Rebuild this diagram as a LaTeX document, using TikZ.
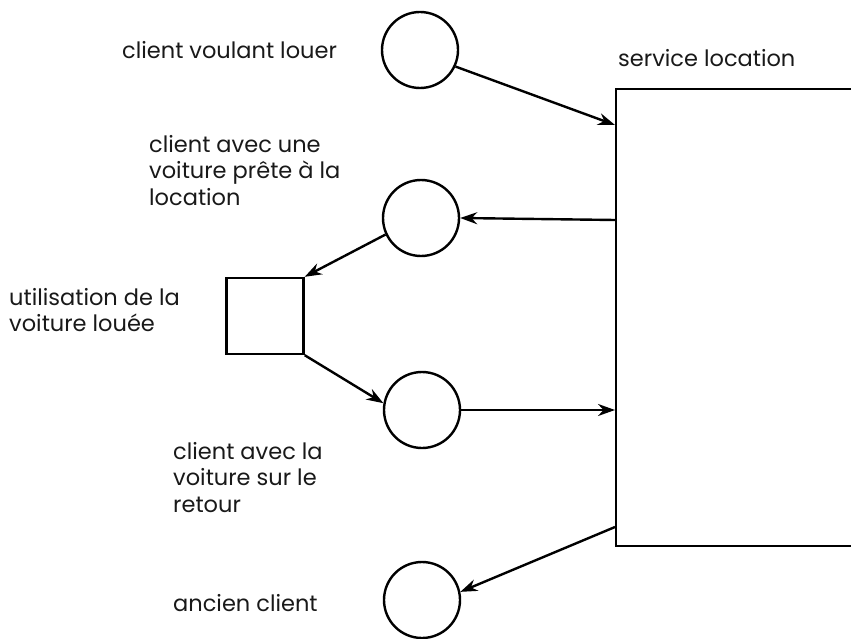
\documentclass[tikz,border=0pt]{standalone}
\usepackage{fontspec}
\setmainfont{Poppins}
\usetikzlibrary{arrows.meta,positioning}
\begin{document}
\begin{tikzpicture}[x=1pt,y=-1pt,
  line width=2.4pt,
  state/.style={draw,circle,minimum size=76pt,inner sep=0pt},
  activity/.style={draw,rectangle,minimum width=77pt,minimum height=76pt,inner sep=0pt},
  label/.style={align=left,inner sep=0pt,font=\fontsize{22.5}{26.5}\selectfont,text=black!90},
  flow/.style={-{Stealth[length=17pt,width=12pt]},line width=2.4pt}]
\clip (0,0) rectangle (851,639);
\fill[white] (0,0) rectangle (851,639);

% service box (its right side runs past the page edge)
\node[draw,rectangle,anchor=north west,minimum width=300pt,minimum height=457pt,inner sep=0pt] (svc) at (615,88) {};
\node[label,anchor=west] (svclbl) at (617,58) {service location};

% states of the client
\node[state] (c1) at (420,50) {};
\node[state] (c2) at (421,218) {};
\node[state] (c3) at (422,410) {};
\node[state] (c4) at (422,600) {};

% rental activity
\node[activity] (use) at (265,316) {};

% texts
\node[label,anchor=west] (l1) at (121,50) {client voulant louer};
\node[label,anchor=north west] (l2) at (148,134) {client avec une\\voiture prête à la\\location};
\node[label,anchor=north west] (l3) at (8,287) {utilisation de la\\voiture louée};
\node[label,anchor=north west] (l4) at (172,441) {client avec la\\voiture sur le\\retour};
\node[label,anchor=west] (l5) at (172,603) {ancien client};

% flows
\draw[flow] (c1.-25) -- ([yshift=-37pt]svc.north west);
\draw[flow] ([yshift=-132pt]svc.north west) -- (c2.east);
\draw[flow] (c2.205) -- (use.north east);
\draw[flow] (use.south east) -- (c3.170);
\draw[flow] (c3.east) -- ([yshift=-322pt]svc.north west);
\draw[flow] ([yshift=-439pt]svc.north west) -- (c4.12);
\end{tikzpicture}
\end{document}
